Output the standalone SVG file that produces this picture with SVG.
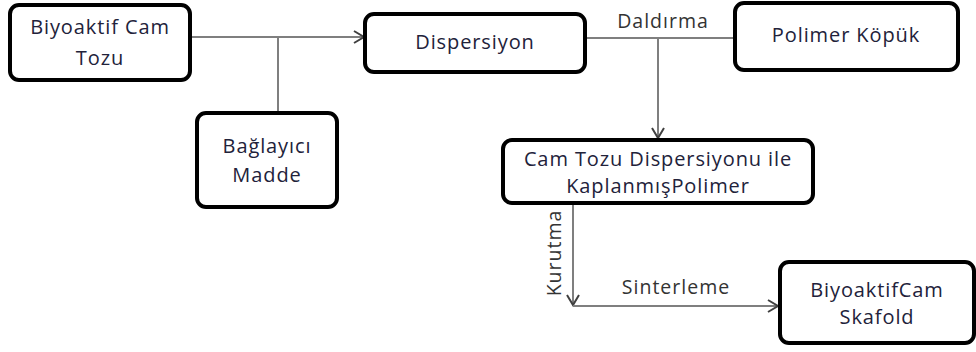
<svg xmlns="http://www.w3.org/2000/svg" width="976" height="352" viewBox="0 0 976 352">
<style>
.box{fill:#fff;stroke:#000;stroke-width:4}
.t{font-family:"Open Sans","Liberation Sans",sans-serif;font-size:20px;fill:#22223a;text-anchor:middle;letter-spacing:0.9px}
.lbl{font-family:"Open Sans","Liberation Sans",sans-serif;font-size:19.5px;fill:#333;text-anchor:middle;letter-spacing:1px}
.c{fill:none;stroke:#7f7f7f;stroke-width:2}
</style>
<defs>
<marker id="ah" markerWidth="14" markerHeight="14" refX="12" refY="7" orient="auto" markerUnits="userSpaceOnUse">
<polyline points="2,1 12,7 2,13" fill="none" stroke="#404040" stroke-width="2"/>
</marker>
</defs>
<g id="connectors">
<path class="c" d="M191,37 H364" marker-end="url(#ah)"/>
<path class="c" d="M278,37 V113"/>
<path class="c" d="M585,38 H735"/>
<path class="c" d="M658,38 V138" marker-end="url(#ah)"/>
<path class="c" d="M573,203 V305" marker-end="url(#ah)"/>
<path class="c" d="M573,306 H778" stroke="#404040" marker-end="url(#ah)"/>
<text class="lbl" x="663" y="28">Daldırma</text>
<text class="lbl" x="676" y="294">Sinterleme</text>
<text class="lbl" x="561" y="253" transform="rotate(-90 561 253)">Kurutma</text>
</g>
<g id="n1">
<rect class="box" x="10" y="5" width="180" height="75" rx="9"/>
<text class="t" x="100" y="34">Biyoaktif Cam</text>
<text class="t" x="100" y="65">Tozu</text>
</g>
<g id="n2">
<rect class="box" x="365" y="14" width="220" height="58" rx="9"/>
<text class="t" x="475" y="49">Dispersiyon</text>
</g>
<g id="n3">
<rect class="box" x="735" y="3" width="223" height="67" rx="9"/>
<text class="t" x="846" y="42">Polimer Köpük</text>
</g>
<g id="n4">
<rect class="box" x="197" y="113" width="140" height="94" rx="9"/>
<text class="t" x="267" y="153">Bağlayıcı</text>
<text class="t" x="267" y="182">Madde</text>
</g>
<g id="n5">
<rect class="box" x="503" y="140" width="310" height="63" rx="9"/>
<text class="t" x="658" y="166">Cam Tozu Dispersiyonu ile</text>
<text class="t" x="658" y="193">KaplanmışPolimer</text>
</g>
<g id="n6">
<rect class="box" x="780" y="262" width="194" height="81" rx="9"/>
<text class="t" x="877" y="297">BiyoaktifCam</text>
<text class="t" x="877" y="324">Skafold</text>
</g>
</svg>
